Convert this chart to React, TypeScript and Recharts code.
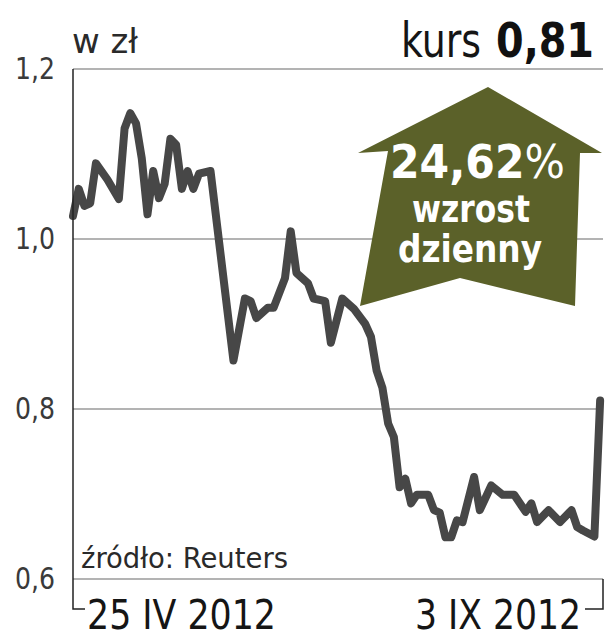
import React from 'react';
import { LineChart, Line, XAxis, YAxis, CartesianGrid } from 'recharts';

// trading-day index since 25 IV 2012
const days = [0,1,2,3,4,6,8,9,10,11,12,13,14,15,16,17,18,19,20,21,22,24,28,30,31,32,34,35,37,38,39,41,42,44,45,47,49,51,52,53,54,55,56,57,58,59,60,62,63,64,65,66,67,68,70,71,73,75,77,79,80,81,83,85,87,88,89,91,92];
const prices = [1.027,1.059,1.039,1.042,1.089,1.070,1.047,1.130,1.148,1.136,1.095,1.029,1.080,1.048,1.065,1.118,1.111,1.059,1.080,1.059,1.077,1.080,0.857,0.930,0.927,0.907,0.919,0.919,0.954,1.009,0.960,0.948,0.930,0.927,0.878,0.930,0.918,0.900,0.885,0.845,0.825,0.783,0.767,0.708,0.718,0.689,0.699,0.699,0.681,0.678,0.649,0.649,0.669,0.667,0.720,0.681,0.710,0.699,0.699,0.679,0.689,0.667,0.681,0.667,0.681,0.661,0.657,0.650,0.81];

const yTicks = [0.6, 0.8, 1.0, 1.2];
const yTickLabels = ['0,6', '0,8', '1,0', '1,2'];
const xTicks = [0, 92.5];
const xTickLabels = ['25 IV 2012', '3 IX 2012'];

const unitLabel = 'w zł';
const priceLabel = 'kurs';
const priceValue = '0,81';
const changeValue = '24,62';
const changeLine1 = 'wzrost';
const changeLine2 = 'dzienny';
const sourceLabel = 'źródło: Reuters';

const data = days.map((d, i) => ({ day: d, price: prices[i] }));

const FONT = "'Liberation Sans Narrow', 'DejaVu Sans Condensed', Roboto, sans-serif";

const YTick = (props: any) => {
  const { x, y, payload } = props;
  const idx = yTicks.indexOf(payload.value);
  const label = idx >= 0 ? yTickLabels[idx] : String(payload.value);
  return (
    <text x={x - 10} y={y + 10} textAnchor="end" fontFamily={FONT} fontSize={30} fill="#3a3a3a"
      textLength={40} lengthAdjust="spacingAndGlyphs">{label}</text>
  );
};

const XTick = (props: any) => {
  const { x, y, index } = props;
  const label = xTickLabels[index];
  if (index === 0) {
    return (
      <g>
        <path d={`M${x},${y} V${y + 30} H${x + 12}`} stroke="#222" strokeWidth={1.5} fill="none" />
        <text x={x + 14} y={y + 50} textAnchor="start" fontFamily={FONT} fontSize={40} fill="#151515"
          textLength={189} lengthAdjust="spacingAndGlyphs">{label}</text>
      </g>
    );
  }
  return (
    <g>
      <path d={`M${x},${y} V${y + 30} H${x - 18}`} stroke="#222" strokeWidth={1.5} fill="none" />
      <text x={x - 22} y={y + 50} textAnchor="end" fontFamily={FONT} fontSize={40} fill="#151515"
        textLength={166} lengthAdjust="spacingAndGlyphs">{label}</text>
    </g>
  );
};

export default function App() {
  return (
    <div style={{ position: 'absolute', left: 0, top: 0, width: 605, height: 640, background: '#fff' }}>
      <LineChart width={605} height={640} data={data} margin={{ top: 69, right: 2, bottom: 0, left: 10 }}>
        <CartesianGrid vertical={false} stroke="#9a9a9a" strokeWidth={1.5} />
        <XAxis dataKey="day" type="number" domain={[0, 92.5]} ticks={xTicks} axisLine={false}
          tickLine={false} tickSize={0} tickMargin={0} tick={<XTick />} interval={0} height={61} />
        <YAxis type="number" domain={[0.6, 1.2]} ticks={yTicks} width={63} axisLine={{ stroke: '#222', strokeWidth: 1.5 }}
          tickLine={false} tick={<YTick />} interval={0} />
        <Line type="linear" dataKey="price" stroke="#474747" strokeWidth={8} dot={false}
          strokeLinejoin="round" strokeLinecap="round" isAnimationActive={false} />
      </LineChart>
      <svg width={605} height={640} style={{ position: 'absolute', left: 0, top: 0, pointerEvents: 'none' }}>
        <text x={72} y={53} fontFamily={FONT} fontSize={34} fill="#2a2a2a" textLength={66} lengthAdjust="spacingAndGlyphs">{unitLabel}</text>
        <text x={401} y={57} fontFamily={FONT} fontSize={48} fill="#151515" textLength={80} lengthAdjust="spacingAndGlyphs">{priceLabel}</text>
        <text x={496} y={57} fontFamily={FONT} fontSize={48} fontWeight="bold" fill="#111" textLength={98} lengthAdjust="spacingAndGlyphs">{priceValue}</text>
        <text x={81} y={568} fontFamily={FONT} fontSize={29} fill="#2a2a2a" textLength={207} lengthAdjust="spacingAndGlyphs">{sourceLabel}</text>
        <polygon points="488,87 602,153 580,153 575,306 460,278 360,306 388,151 358,153" fill="#5b6129" />
        <text x={390} y={178} fontFamily={FONT} fontSize={47} fontWeight="bold" fill="#fff" textLength={175} lengthAdjust="spacingAndGlyphs">
          {changeValue}<tspan fontWeight="normal">%</tspan>
        </text>
        <text x={412} y={222} fontFamily={FONT} fontSize={37} fontWeight="bold" fill="#fff" textLength={118} lengthAdjust="spacingAndGlyphs">{changeLine1}</text>
        <text x={398} y={262} fontFamily={FONT} fontSize={37} fontWeight="bold" fill="#fff" textLength={144} lengthAdjust="spacingAndGlyphs">{changeLine2}</text>
      </svg>
    </div>
  );
}
